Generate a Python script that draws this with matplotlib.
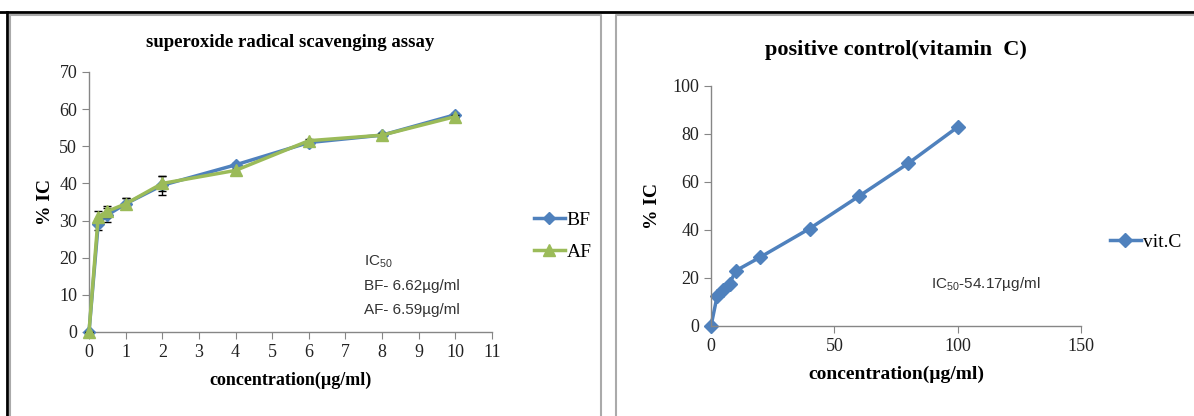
import matplotlib
matplotlib.use("Agg")
import matplotlib.pyplot as plt
from matplotlib.lines import Line2D

# superoxide assay data
conc = [0, 0.25, 0.5, 1, 2, 4, 6, 8, 10]
bf = [0, 29, 31.5, 34.5, 39.5, 45, 51, 53, 58.5]
af = [0, 31, 32.5, 34.5, 40, 43.5, 51.5, 53, 58]
bf_err = [0, 1.5, 2, 1.5, 2.5, 0.5, 0.5, 0.5, 0.5]
af_err = [0, 1.5, 1.5, 1.5, 2.0, 0.5, 0.5, 0.5, 0.5]

# vitamin C data
vc_conc = [0, 2.5, 5, 7.5, 10, 20, 40, 60, 80, 100]
vc = [0, 12.5, 15, 17.5, 23, 28.7, 40.6, 54.1, 67.8, 82.9]

blue = '#4f81bd'
green = '#9bbb59'
gray = '#868686'
W, H = 1194, 416

plt.rcParams['font.family'] = 'Liberation Serif'

fig = plt.figure(figsize=(W / 100, H / 100), dpi=100)


def fx(px):
    return px / W


def fy(py):
    return 1 - py / H


# panel frames
fig.add_artist(Line2D([0, 1], [fy(12), fy(12)], color='black', lw=2, transform=fig.transFigure))
fig.add_artist(Line2D([fx(7), fx(7)], [0, fy(12)], color='black', lw=2, transform=fig.transFigure))
fig.add_artist(Line2D([fx(10), fx(601), fx(601)], [fy(15), fy(15), 0], color='#aaaaaa', lw=1.5,
                      transform=fig.transFigure))
fig.add_artist(Line2D([fx(10), fx(10)], [0, fy(15)], color='#aaaaaa', lw=1.5, transform=fig.transFigure))
fig.add_artist(Line2D([fx(616), fx(616), 1], [0, fy(15), fy(15)], color='#aaaaaa', lw=1.5,
                      transform=fig.transFigure))


def style_axes(ax):
    for s in ['top', 'right']:
        ax.spines[s].set_visible(False)
    for s in ['left', 'bottom']:
        ax.spines[s].set_color(gray)
        ax.spines[s].set_linewidth(1)
    ax.tick_params(colors=gray, labelcolor='#222222', labelsize=13, length=5, direction='out')


# left chart
ax1 = fig.add_axes([fx(89), fy(332), fx(492) - fx(89), fy(72) - fy(332)])
l1 = ax1.errorbar(conc, bf, yerr=bf_err, color=blue, lw=2.5, marker='D', ms=6,
                  ecolor='black', elinewidth=1, capsize=3, label='BF', zorder=3)
l2 = ax1.errorbar(conc, af, yerr=af_err, color=green, lw=2.5, marker='^', ms=8,
                  ecolor='black', elinewidth=1, capsize=3, label='AF', zorder=4)
for c in (l1, l2):
    for a in c.get_children():
        a.set_clip_on(False)
ax1.set_xlim(0, 11)
ax1.set_ylim(0, 70)
ax1.set_xticks(range(0, 12))
ax1.set_yticks(range(0, 71, 10))
style_axes(ax1)
ax1.set_title('superoxide radical scavenging assay', fontsize=13.5, fontweight='bold', pad=18)
ax1.set_xlabel('concentration(µg/ml)', fontsize=13, fontweight='bold', labelpad=8)
ax1.set_ylabel('% IC', fontsize=14, fontweight='bold', labelpad=4)
h, l = ax1.get_legend_handles_labels()
h = [x[0] for x in h]
ax1.legend(h, l, loc='center left', bbox_to_anchor=(1.06, 0.37), frameon=False, fontsize=14,
           handlelength=1.6, handletextpad=0.1, labelspacing=0.75)
ann = dict(fontsize=11, family='Liberation Sans', color='#333333', transform=fig.transFigure)
fig.text(fx(364), fy(262), r'IC$_{\mathregular{50}}$', va='center', **ann)
fig.text(fx(364), fy(286), 'BF- 6.62µg/ml', va='center', **ann)
fig.text(fx(364), fy(310), 'AF- 6.59µg/ml', va='center', **ann)

# right chart
ax2 = fig.add_axes([fx(711), fy(326), fx(1081) - fx(711), fy(86) - fy(326)])
ax2.plot(vc_conc, vc, color=blue, lw=2.5, marker='D', ms=7, label='vit.C', clip_on=False)
ax2.set_xlim(0, 150)
ax2.set_ylim(0, 100)
ax2.set_xticks([0, 50, 100, 150])
ax2.set_yticks(range(0, 101, 20))
style_axes(ax2)
ax2.set_title('positive control(vitamin  C)', fontsize=16, fontweight='bold', pad=22)
ax2.set_xlabel('concentration(µg/ml)', fontsize=14, fontweight='bold', labelpad=8)
ax2.set_ylabel('% IC', fontsize=14, fontweight='bold', labelpad=8)
ax2.legend(loc='center left', bbox_to_anchor=(1.03, 0.35), frameon=False, fontsize=14,
           handlelength=1.6, handletextpad=0.1)
fig.text(fx(931), fy(284), r'IC$_{\mathregular{50}}$-54.17µg/ml', va='center', **ann)

fig.savefig('out.png', dpi=100)
